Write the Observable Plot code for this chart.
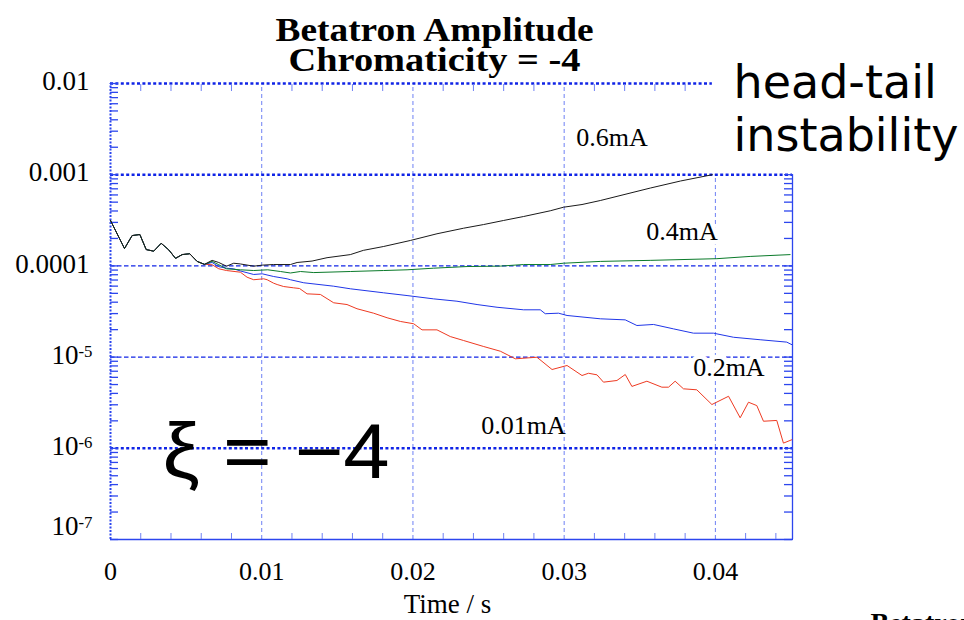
<!DOCTYPE html>
<html>
<head>
<meta charset="utf-8">
<script src="https://cdn.jsdelivr.net/npm/d3@7"></script>
<script src="https://cdn.jsdelivr.net/npm/@observablehq/plot@0.6"></script>
<style>
  html, body { margin: 0; padding: 0; background: #fff; }
  #chart svg { display: block; }
</style>
</head>
<body>
<div id="chart"></div>
<script>
const serif = "'Liberation Serif', 'Times New Roman', Times, serif";
const sans = "'DejaVu Sans', 'Liberation Sans', sans-serif";

// ---- data (time in s, amplitude) ----
// shared start of all four runs
const tStart = [0, 0.000925, 0.00143, 0.00194, 0.00236, 0.00286, 0.00335, 0.00385, 0.0043, 0.00474, 0.00524, 0.00573, 0.00621];
const vStart = [3.15e-4, 1.55e-4, 2.15e-4, 2.21e-4, 1.51e-4, 1.45e-4, 1.77e-4, 1.50e-4, 1.21e-4, 1.33e-4, 1.36e-4, 1.12e-4, 1.04e-4];

// 0.6 mA (black)
const t06 = [0.00672, 0.00716, 0.00767, 0.00815, 0.00859, 0.00947, 0.01005, 0.01077, 0.0119, 0.01234, 0.01333, 0.01432, 0.01586, 0.01672, 0.01804, 0.01983, 0.02159, 0.02335, 0.02467, 0.026, 0.02732, 0.02908, 0.02996, 0.03118, 0.03239, 0.0357, 0.0377, 0.0398];
const v06 = [1.15e-4, 1.09e-4, 9.93e-5, 1.07e-4, 1.05e-4, 9.93e-5, 1.02e-4, 1.035e-4, 1.035e-4, 1.09e-4, 1.13e-4, 1.23e-4, 1.33e-4, 1.48e-4, 1.63e-4, 1.90e-4, 2.25e-4, 2.59e-4, 2.84e-4, 3.15e-4, 3.48e-4, 4.02e-4, 4.40e-4, 4.71e-4, 5.21e-4, 7.14e-4, 8.53e-4, 1.0e-3];

// 0.4 mA (green)
const t04 = [0.00672, 0.00716, 0.00767, 0.00859, 0.00947, 0.0104, 0.01124, 0.0119, 0.01256, 0.01344, 0.01586, 0.01806, 0.01961, 0.02137, 0.02358, 0.02578, 0.02732, 0.02908, 0.02996, 0.03239, 0.03569, 0.0401, 0.0423, 0.04494];
const v04 = [1.12e-4, 1.03e-4, 9.29e-5, 9.06e-5, 8.9e-5, 9.06e-5, 8.68e-5, 8.36e-5, 8.68e-5, 8.45e-5, 8.68e-5, 8.9e-5, 9.06e-5, 9.44e-5, 9.84e-5, 9.95e-5, 1.035e-4, 1.035e-4, 1.07e-4, 1.12e-4, 1.15e-4, 1.20e-4, 1.27e-4, 1.33e-4];

// 0.2 mA (blue)
const t02 = [0.00672, 0.00716, 0.00767, 0.00815, 0.00859, 0.00947, 0.01003, 0.01079, 0.01168, 0.0119, 0.01278, 0.01476, 0.01586, 0.01806, 0.01961, 0.02137, 0.02291, 0.02424, 0.02556, 0.02732, 0.02842, 0.02875, 0.02963, 0.03019, 0.03239, 0.03404, 0.03481, 0.03591, 0.03723, 0.03855, 0.03987, 0.0412, 0.04296, 0.04472, 0.04505];
const v02 = [1.09e-4, 9.8e-5, 9.44e-5, 9.29e-5, 8.8e-5, 8.05e-5, 8.19e-5, 7.65e-5, 7.22e-5, 7.05e-5, 6.53e-5, 5.99e-5, 5.61e-5, 5.07e-5, 4.73e-5, 4.35e-5, 4.10e-5, 3.77e-5, 3.52e-5, 3.30e-5, 3.30e-5, 2.99e-5, 3.03e-5, 2.86e-5, 2.63e-5, 2.56e-5, 2.22e-5, 2.28e-5, 2.04e-5, 1.83e-5, 1.83e-5, 1.65e-5, 1.55e-5, 1.46e-5, 1.37e-5];

// 0.01 mA (red)
const t001 = [0.00672, 0.00716, 0.00767, 0.00859, 0.00903, 0.00947, 0.01013, 0.01036, 0.01079, 0.01102, 0.01145, 0.01211, 0.0125, 0.013, 0.01388, 0.01476, 0.01564, 0.0163, 0.0174, 0.01829, 0.01917, 0.02005, 0.0206, 0.02159, 0.02247, 0.02335, 0.02465, 0.02578, 0.02677, 0.0282, 0.0292, 0.03019, 0.03118, 0.03161, 0.03217, 0.0326, 0.03349, 0.03404, 0.03448, 0.03547, 0.03646, 0.0369, 0.03734, 0.03789, 0.03877, 0.03977, 0.04087, 0.04164, 0.04219, 0.04274, 0.04318, 0.04406, 0.0445, 0.04505];
const v001 = [1.03e-4, 9.3e-5, 8.9e-5, 8.53e-5, 7.52e-5, 7.05e-5, 7.22e-5, 7.05e-5, 6.46e-5, 6.25e-5, 5.94e-5, 5.75e-5, 5.65e-5, 4.94e-5, 4.86e-5, 3.94e-5, 3.77e-5, 3.39e-5, 3.03e-5, 2.70e-5, 2.46e-5, 2.32e-5, 1.99e-5, 1.99e-5, 1.68e-5, 1.52e-5, 1.31e-5, 1.16e-5, 9.58e-6, 9.97e-6, 7.31e-6, 8.09e-6, 6.28e-6, 6.65e-6, 6.39e-6, 5.31e-6, 5.54e-6, 6.44e-6, 4.77e-6, 5.44e-6, 4.68e-6, 4.68e-6, 5.44e-6, 4.49e-6, 4.38e-6, 3.02e-6, 3.72e-6, 2.16e-6, 3.20e-6, 2.94e-6, 1.98e-6, 2.02e-6, 1.14e-6, 1.24e-6];

// curve labels
const curveLabels = ["0.6mA", "0.4mA", "0.2mA", "0.01mA"];
const curveLabelT = [0.0308, 0.03543, 0.03853, 0.02452];
const curveLabelV = [2.04e-3, 1.90e-4, 6.28e-6, 1.45e-6];
const curveLabelHalo = [false, true, true, false];

// ξ annotation
const xiText = ["ξ = −4"];
const xiT = [0.00344];
const xiV = [4.67e-7];

// titles / texts
const titleLines = ["Betatron Amplitude", "Chromaticity = -4"];
const noteLines = ["head-tail", "instability"];
const xAxisLabel = "Time / s";
const cutText = "Betatron";

// axis ticks
const xTickLabels = [0, 0.01, 0.02, 0.03, 0.04];
const xMinorTicks = [0.002, 0.004, 0.006, 0.008, 0.012, 0.014, 0.016, 0.018, 0.022, 0.024, 0.026, 0.028, 0.032, 0.034, 0.036, 0.038, 0.042, 0.044];
const xMinorTicksTop = [0.002, 0.004, 0.006, 0.008, 0.012, 0.014, 0.016, 0.018, 0.022, 0.024, 0.026, 0.028, 0.032, 0.034, 0.036, 0.038];
const yTickDecimal = [1e-2, 1e-3, 1e-4];
const yTickPower = [1e-5, 1e-6];
const yTickBottom = [1e-7];
const leftDecades = [1e-7, 1e-6, 1e-5, 1e-4, 1e-3];
const rightDecades = [1e-7, 1e-6, 1e-5, 1e-4];
const mantissas = [1, 2, 3, 4, 5, 6, 7, 8, 9];

// frame / grid
const xMin = 0, xMax = 0.0451, xBoxEdge = 0.0398;
const yMin = 1e-7, yMax = 1e-2, yBoxEdge = 1e-3;
const vGrid = [0.01, 0.02, 0.03];
const vGridShort = [0.04];
const hGridDotted = [1e-3, 1e-6];
const hGridDashed = [1e-4, 1e-5];

const toRows = (ts, vs) => ts.map((t, i) => ({t, v: vs[i]}));
const run06 = toRows([...tStart, ...t06], [...vStart, ...v06]);
const run04 = toRows([...tStart, ...t04], [...vStart, ...v04]);
const run02 = toRows([...tStart, ...t02], [...vStart, ...v02]);
const run001 = toRows([...tStart, ...t001], [...vStart, ...v001]);

const labelRows = curveLabels.map((text, i) => ({text, t: curveLabelT[i], v: curveLabelV[i], halo: curveLabelHalo[i]}));
const xiRows = xiText.map((text, i) => ({text, t: xiT[i], v: xiV[i]}));

const leftMinor = leftDecades.flatMap(d => mantissas.map(m => m * d)).concat([yMax]);
const rightMinor = rightDecades.flatMap(d => mantissas.map(m => m * d)).concat([yBoxEdge]);

const blueDark = "#1024e6";
const tickBlue = "#2c46ee";
const gridLight = "#6e80f4";

const fmtY = d => d >= 1e-4 ? String(d) : "10^" + Math.round(Math.log10(d));

const chart = Plot.plot({
  width: 964, height: 620,
  marginLeft: 110, marginRight: 172, marginTop: 83, marginBottom: 81,
  style: {fontFamily: serif, fontSize: "26px", color: "#000", background: "#fff", overflow: "hidden"},
  x: {type: "linear", domain: [xMin, xMax], axis: null},
  y: {type: "log", domain: [yMin, yMax], axis: null},
  marks: [
    // grid
    Plot.ruleX(vGrid, {y1: yMin, y2: yMax, stroke: gridLight, strokeWidth: 1, strokeDasharray: "4,3"}),
    Plot.ruleX(vGridShort, {y1: yMin, y2: yBoxEdge, stroke: gridLight, strokeWidth: 1, strokeDasharray: "4,3"}),
    Plot.ruleY(hGridDotted, {x1: xMin, x2: xMax, stroke: blueDark, strokeWidth: 2.6, strokeDasharray: "3,2.4"}),
    Plot.ruleY(hGridDashed, {x1: xMin, x2: xMax, stroke: blueDark, strokeWidth: 1.2, strokeDasharray: "4.5,2.5"}),
    // frame
    Plot.ruleY([yMax], {x1: xMin, x2: xBoxEdge, stroke: blueDark, strokeWidth: 2.6, strokeDasharray: "3,2.4"}),
    Plot.ruleY([yMin], {x1: xMin, x2: xMax, stroke: tickBlue, strokeWidth: 1.5}),
    Plot.ruleX([xMin], {y1: yMin, y2: yMax, stroke: tickBlue, strokeWidth: 2, strokeDasharray: "2,1.5"}),
    Plot.ruleX([xMax], {y1: yMin, y2: yBoxEdge, stroke: tickBlue, strokeWidth: 1.3}),
    // inward minor ticks
    Plot.axisY({ticks: leftMinor, anchor: "left", tickSize: 8, dx: 8, color: "none", stroke: tickBlue, strokeWidth: 1.3, label: null}),
    Plot.axisY({ticks: rightMinor, anchor: "right", tickSize: 9, dx: -9, color: "none", stroke: tickBlue, strokeWidth: 1.3, label: null}),
    Plot.axisX({ticks: xMinorTicksTop, anchor: "top", tickSize: 7, dy: 7, color: "none", stroke: gridLight, strokeWidth: 1, label: null}),
    Plot.axisX({ticks: xMinorTicks, anchor: "bottom", tickSize: 6, dy: -6, color: "none", stroke: gridLight, strokeWidth: 1, label: null}),
    // tick labels
    Plot.axisY({ticks: yTickDecimal, anchor: "left", tickSize: 0, tickPadding: 21, dy: -2, tickFormat: fmtY, fontSize: 27, label: null}),
    Plot.axisY({ticks: yTickPower, anchor: "left", tickSize: 0, tickPadding: 18, dy: -2, tickFormat: fmtY, fontSize: 27, label: null}),
    Plot.axisY({ticks: yTickBottom, anchor: "left", tickSize: 0, tickPadding: 18, dy: -13, tickFormat: fmtY, fontSize: 27, label: null}),
    Plot.axisX({ticks: xTickLabels, anchor: "bottom", tickSize: 0, tickPadding: 22.5, tickFormat: d => String(d), fontSize: 26, label: null}),
    // curves
    Plot.line(run001, {x: "t", y: "v", stroke: "#ee3a22", strokeWidth: 1}),
    Plot.line(run02, {x: "t", y: "v", stroke: "#2036e8", strokeWidth: 1}),
    Plot.line(run04, {x: "t", y: "v", stroke: "#0a7a2a", strokeWidth: 1}),
    Plot.line(run06, {x: "t", y: "v", stroke: "#1a1a1a", strokeWidth: 1}),
    // curve labels
    Plot.text(labelRows.filter(d => d.halo), {x: "t", y: "v", text: "text", textAnchor: "start", lineAnchor: "bottom", fontSize: 26, fontFamily: serif, fill: "#000", stroke: "#fff", strokeWidth: 9}),
    Plot.text(labelRows.filter(d => !d.halo), {x: "t", y: "v", text: "text", textAnchor: "start", lineAnchor: "bottom", fontSize: 26, fontFamily: serif, fill: "#000"}),
    Plot.text(xiRows, {x: "t", y: "v", text: "text", textAnchor: "start", lineAnchor: "bottom", fontSize: 78, fontFamily: "'Liberation Sans', Arial, sans-serif", fill: "#000"}),
    // titles and notes
    Plot.text([titleLines[0]], {frameAnchor: "top", dx: -17, dy: -43, lineAnchor: "bottom", fontSize: 34, fontWeight: "bold", fontFamily: serif, fill: "#000"}),
    Plot.text([titleLines[1]], {frameAnchor: "top", dx: -17, dy: -13, lineAnchor: "bottom", fontSize: 34, fontWeight: "bold", fontFamily: serif, fill: "#000"}),
    Plot.text([noteLines[0]], {frameAnchor: "top-right", dx: -59, dy: 14, textAnchor: "start", lineAnchor: "bottom", fontSize: 46, fontFamily: sans, fill: "#000"}),
    Plot.text([noteLines[1]], {frameAnchor: "top-right", dx: -59, dy: 67, textAnchor: "start", lineAnchor: "bottom", fontSize: 46, fontFamily: sans, fill: "#000"}),
    Plot.text([xAxisLabel], {frameAnchor: "bottom", dx: -4, dy: 73, lineAnchor: "bottom", fontSize: 27, fontFamily: serif, fill: "#000"}),
    Plot.text([cutText], {frameAnchor: "bottom-right", dx: 78, dy: 92, textAnchor: "start", lineAnchor: "bottom", fontSize: 28, fontWeight: "bold", fontFamily: serif, fill: "#000"})
  ]
});

// superscript exponents on the log axis labels; stretch wide display texts
const stretch = {"Betatron Amplitude": 318, "Chromaticity = -4": 292, "ξ = −4": 227};
chart.querySelectorAll("text").forEach(t => {
  const s = t.textContent;
  const m = /^10\^(-?\d+)$/.exec(s);
  if (m) {
    t.textContent = "10";
    const sup = document.createElementNS("http://www.w3.org/2000/svg", "tspan");
    sup.setAttribute("dy", "-0.42em");
    sup.setAttribute("font-size", "0.62em");
    sup.textContent = m[1];
    t.appendChild(sup);
  } else if (stretch[s]) {
    t.setAttribute("textLength", stretch[s]);
    t.setAttribute("lengthAdjust", "spacingAndGlyphs");
  }
});

document.getElementById("chart").appendChild(chart);
</script>
</body>
</html>
